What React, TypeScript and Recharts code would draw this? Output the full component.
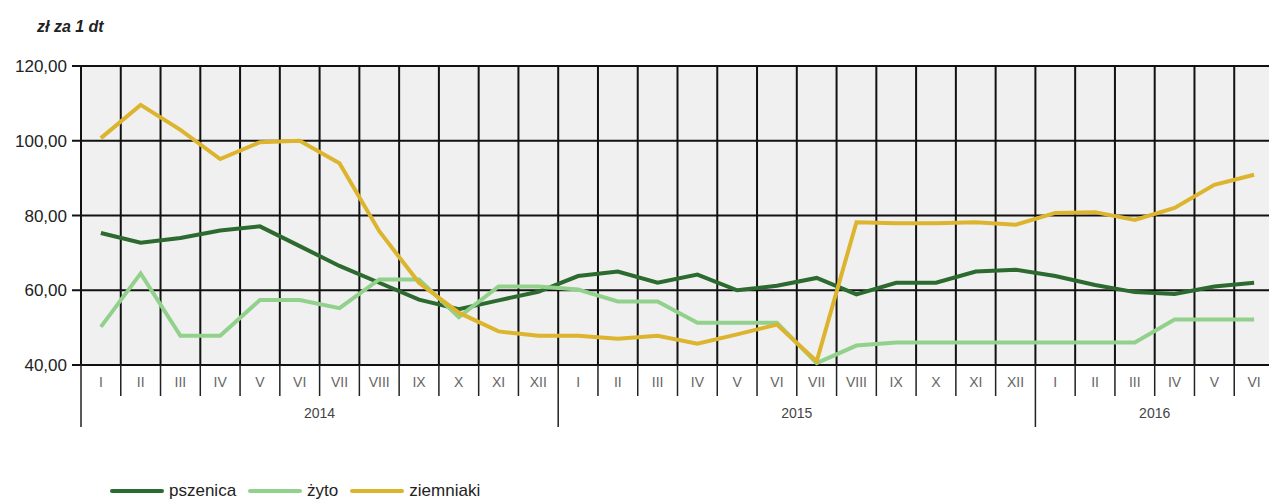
import { CartesianGrid, Legend, Line, LineChart, XAxis, YAxis } from "recharts";

const months = [
  "I", "II", "III", "IV", "V", "VI", "VII", "VIII", "IX", "X", "XI", "XII",
  "I", "II", "III", "IV", "V", "VI", "VII", "VIII", "IX", "X", "XI", "XII",
  "I", "II", "III", "IV", "V", "VI",
];

const pszenica = [
  75.3, 72.7, 74.0, 76.0, 77.1, 71.8, 66.5, 62.0, 57.5, 54.9, 57.3, 59.6,
  63.8, 65.0, 62.0, 64.2, 60.0, 61.2, 63.3, 58.9, 62.0, 62.0, 65.0, 65.5,
  63.8, 61.4, 59.5, 59.0, 61.0, 62.0,
];

const zyto = [
  50.2, 64.5, 47.8, 47.8, 57.4, 57.4, 55.2, 62.9, 62.9, 52.8, 61.0, 61.0,
  60.2, 57.0, 57.0, 51.3, 51.3, 51.3, 40.5, 45.2, 46.0, 46.0, 46.0, 46.0,
  46.0, 46.0, 46.0, 52.2, 52.2, 52.2,
];

const ziemniaki = [
  100.7, 109.6, 102.9, 95.1, 99.6, 100.0, 94.0, 75.8, 62.0, 54.0, 49.0, 47.8,
  47.8, 47.0, 47.8, 45.7, 48.2, 50.8, 41.0, 78.2, 77.9, 77.9, 78.2, 77.5,
  80.7, 80.9, 78.8, 82.0, 88.2, 90.9,
];

const years = ["2014", "2015", "2016"];
const yearStarts = [0, 12, 24];
const yearLengths = [12, 12, 6];

const yTicks = [40, 60, 80, 100, 120];

const SERIES = [
  { key: "pszenica", name: "pszenica", color: "#2c6a2f" },
  { key: "zyto", name: "żyto", color: "#92d18c" },
  { key: "ziemniaki", name: "ziemniaki", color: "#dcb42e" },
];

const data = months.map((m, i) => ({
  x: i + 0.5,
  month: m,
  pszenica: pszenica[i],
  zyto: zyto[i],
  ziemniaki: ziemniaki[i],
}));

const CHART_W = 1275;
const Y_AXIS_W = 81;
const PLOT_W = CHART_W - Y_AXIS_W - 1;
const BAND = PLOT_W / months.length;
const FONT = "'Liberation Sans', Arial, sans-serif";
const GRID = "#111";

const monthTicks = months.map((_, i) => i).concat(months.length);
const yearTicks: number[] = [];
yearStarts.forEach((s, i) => {
  yearTicks.push(s, s + yearLengths[i] / 2);
});

function MonthTick(props: any) {
  const { x, y, payload } = props;
  const i = payload.value;
  return (
    <g>
      <line x1={x} x2={x} y1={y} y2={y + 31} stroke="#222" strokeWidth={1.5} />
      {i < months.length && (
        <text
          x={x + BAND / 2}
          y={y + 22}
          textAnchor="middle"
          fontSize={14}
          fontFamily={FONT}
          fill="#666"
        >
          {months[i]}
        </text>
      )}
    </g>
  );
}

function YearTick(props: any) {
  const { x, y, payload } = props;
  const v = payload.value;
  const idx = yearStarts.indexOf(v);
  if (idx >= 0) {
    return <line x1={x} x2={x} y1={y} y2={y + 31} stroke="#222" strokeWidth={1.5} />;
  }
  const yi = yearStarts.findIndex((s, k) => s + yearLengths[k] / 2 === v);
  return (
    <text x={x} y={y + 22} textAnchor="middle" fontSize={14} fontFamily={FONT} fill="#444">
      {years[yi]}
    </text>
  );
}

function LegendContent() {
  return (
    <div
      style={{
        display: "flex",
        alignItems: "center",
        height: 20,
        paddingLeft: 110,
        fontFamily: FONT,
        fontSize: 17,
        color: "#222",
      }}
    >
      {SERIES.map((s) => (
        <div key={s.key} style={{ display: "flex", alignItems: "center", marginRight: 12 }}>
          <div style={{ width: 54, height: 4, background: s.color, marginRight: 5, borderRadius: 2 }} />
          <span>{s.name}</span>
        </div>
      ))}
    </div>
  );
}

export default function App() {
  return (
    <div
      style={{
        position: "absolute",
        left: 0,
        top: 0,
        width: 1269,
        height: 500,
        overflow: "hidden",
        background: "#fff",
      }}
    >
      <div
        style={{
          position: "absolute",
          left: 37,
          top: 18,
          fontFamily: FONT,
          fontSize: 16,
          fontWeight: "bold",
          fontStyle: "italic",
          color: "#222",
        }}
      >
        zł za 1 dt
      </div>
      <LineChart
        width={CHART_W}
        height={500}
        data={data}
        margin={{ top: 66, right: 1, left: 0, bottom: 53 }}
      >
        <CartesianGrid
          xAxisId="m"
          stroke={GRID}
          strokeWidth={2}
          fill="#f0f0f0"
          fillOpacity={1}
        />
        <XAxis
          xAxisId="m"
          type="number"
          dataKey="x"
          domain={[0, months.length]}
          ticks={monthTicks}
          interval={0}
          axisLine={false}
          tickLine={false}
          tickSize={0}
          tickMargin={0}
          height={31}
          tick={<MonthTick />}
        />
        <XAxis
          xAxisId="yr"
          type="number"
          dataKey="x"
          domain={[0, months.length]}
          ticks={yearTicks}
          interval={0}
          axisLine={false}
          tickLine={false}
          tickSize={0}
          tickMargin={0}
          height={31}
          tick={<YearTick />}
        />
        <YAxis
          domain={[40, 120]}
          ticks={yTicks}
          width={Y_AXIS_W}
          tickSize={9}
          tickMargin={5}
          interval={0}
          axisLine={{ stroke: GRID, strokeWidth: 2 }}
          tickLine={{ stroke: GRID, strokeWidth: 2 }}
          tick={{ fontSize: 17, fontFamily: FONT, fill: "#222" }}
          tickFormatter={(v: number) => v.toFixed(2).replace(".", ",")}
        />
        {SERIES.map((s) => (
          <Line
            key={s.key}
            xAxisId="m"
            dataKey={s.key}
            name={s.name}
            stroke={s.color}
            strokeWidth={4}
            dot={false}
            type="linear"
            isAnimationActive={false}
          />
        ))}
        <Legend
          verticalAlign="bottom"
          content={<LegendContent />}
          wrapperStyle={{ top: 481, bottom: "auto", left: 0 }}
        />
      </LineChart>
    </div>
  );
}
